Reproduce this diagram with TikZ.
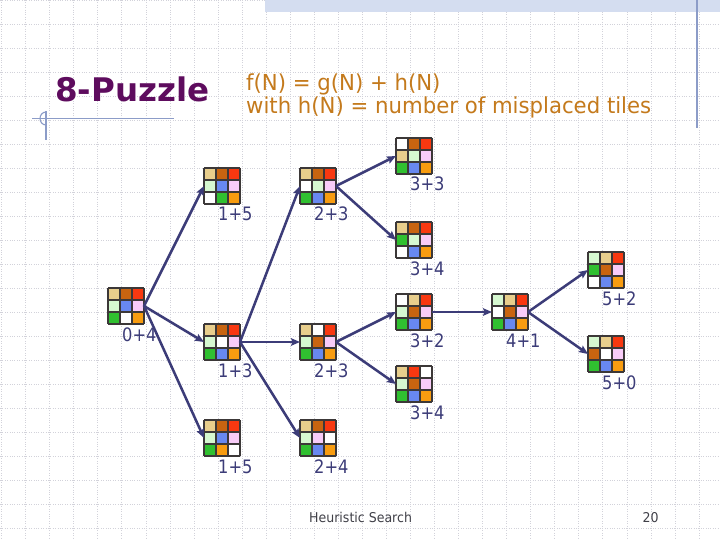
\documentclass[tikz,border=0pt]{standalone}
\usepackage{fontspec}
\setmainfont{DejaVu Sans}
\newfontfamily\lblfont[FakeStretch=0.88]{DejaVu Sans}
\newfontfamily\subfont[FakeStretch=0.965]{DejaVu Sans}
\newfontfamily\footfont[FakeStretch=0.93]{DejaVu Sans}
\usetikzlibrary{arrows.meta}
\definecolor{pzT}{HTML}{E8CE8C}
\definecolor{pzB}{HTML}{C86410}
\definecolor{pzR}{HTML}{F83810}
\definecolor{pzL}{HTML}{D6F8D0}
\definecolor{pzU}{HTML}{6888F0}
\definecolor{pzP}{HTML}{F8CCF8}
\definecolor{pzG}{HTML}{30C030}
\definecolor{pzO}{HTML}{F89C10}
\definecolor{pzW}{HTML}{FFFFFF}
\definecolor{navy}{HTML}{3C3C78}
\definecolor{titlepurple}{HTML}{5E0C5E}
\definecolor{subbrown}{HTML}{C47A1C}
\definecolor{deco}{HTML}{8C9CC8}
\definecolor{band}{HTML}{D4DDF0}
\definecolor{bggray}{HTML}{D2D2DA}
\definecolor{cellline}{HTML}{3C3838}
\definecolor{foot}{HTML}{404048}
\newcommand\puzgrid[4]{%
  \foreach \c [count=\i from 0] in {#4} {%
    \pgfmathtruncatemacro\cc{mod(\i,3)}%
    \pgfmathtruncatemacro\rr{div(\i,3)}%
    \fill[pz\c] ({#2+12*\cc},{#3+12*\rr}) rectangle ++(12,12);
  }
  \foreach \k in {0,12,24,36} {%
    \draw[cellstyle] ({#2+\k},#3) -- ++(0,36);
    \draw[cellstyle] (#2,{#3+\k}) -- ++(36,0);
  }
  \node[pzbox] (#1) at ({#2+18},{#3+18}) {};
}
\newcommand\pzlabel[4]{\node[lbl] (#1) at ({#2+14},{#3+53}) {#4};}
\begin{document}
\begin{tikzpicture}[x=1pt,y=-1pt,
  bggrid/.style={bggray, line width=0.6pt, dash pattern=on 1pt off 1.4pt},
  cellstyle/.style={cellline, line width=1.1pt},
  pzbox/.style={draw=none, minimum size=36pt, inner sep=0pt, outer sep=0pt},
  lbl/.style={navy, anchor=base west, inner sep=0pt, font=\lblfont\fontsize{18.5}{20}\selectfont},
  arr/.style={navy, line width=2.5pt, -{Stealth[length=9pt,width=7.5pt,inset=1.5pt]}},
  decoline/.style={deco, line width=1.1pt}
]
\useasboundingbox (0,0) rectangle (720,540);
\fill[white] (0,0) rectangle (720,540);
% background grid
\foreach \i in {0,...,29} \draw[bggrid] ({1.5+24.05*\i},0) -- ({1.5+24.05*\i},540);
\foreach \j in {0,...,22} \draw[bggrid] (0,{24.03*\j}) -- (720,{24.03*\j});
% header decoration
\fill[band] (265,0) rectangle (720,12.5);
\draw[decoline] (697,0) -- (697,128);
\draw[decoline] (32,118.5) -- (174,118.5);
\draw[decoline] (46,111) -- (46,140);
\draw[decoline] (46,112) arc[start angle=90, end angle=270, x radius=6, y radius=-6.5];
% title
\node[anchor=base west, inner sep=0pt, titlepurple, font=\bfseries\fontsize{32.5}{36}\selectfont] (title) at (55,101.5) {8-Puzzle};
\node[anchor=base west, inner sep=0pt, subbrown, font=\subfont\fontsize{22}{24}\selectfont] (sub1) at (246,90.7) {f(N) = g(N) + h(N)};
\node[anchor=base west, inner sep=0pt, subbrown, font=\subfont\fontsize{22}{24}\selectfont] (sub2) at (246,113.3) {with h(N) = number of misplaced tiles};
% puzzles
\puzgrid{root}{108}{288}{T,B,R,L,U,P,G,W,O}
\puzgrid{a15}{204}{168}{T,B,R,L,U,P,W,G,O}
\puzgrid{a13}{204}{324}{T,B,R,L,W,P,G,U,O}
\puzgrid{a15b}{204}{420}{T,B,R,L,U,P,G,O,W}
\puzgrid{b23}{300}{168}{T,B,R,W,L,P,G,U,O}
\puzgrid{b23m}{300}{324}{T,W,R,L,B,P,G,U,O}
\puzgrid{b24}{300}{420}{T,B,R,L,P,W,G,U,O}
\puzgrid{c33}{396}{138}{W,B,R,T,L,P,G,U,O}
\puzgrid{c34}{396}{222}{T,B,R,G,L,P,W,U,O}
\puzgrid{c32}{396}{294}{W,T,R,L,B,P,G,U,O}
\puzgrid{c34b}{396}{366}{T,R,W,L,B,P,G,U,O}
\puzgrid{d41}{492}{294}{L,T,R,W,B,P,G,U,O}
\puzgrid{e52}{588}{252}{L,T,R,G,B,P,W,U,O}
\puzgrid{e50}{588}{336}{L,T,R,B,W,P,G,U,O}
% labels
\pzlabel{lroot}{108}{288}{0+4}
\pzlabel{la15}{204}{168}{1+5}
\pzlabel{la13}{204}{324}{1+3}
\pzlabel{la15b}{204}{420}{1+5}
\pzlabel{lb23}{300}{168}{2+3}
\pzlabel{lb23m}{300}{324}{2+3}
\pzlabel{lb24}{300}{420}{2+4}
\pzlabel{lc33}{396}{138}{3+3}
\pzlabel{lc34}{396}{222}{3+4}
\pzlabel{lc32}{396}{294}{3+2}
\pzlabel{lc34b}{396}{366}{3+4}
\pzlabel{ld41}{492}{294}{4+1}
\pzlabel{le52}{588}{252}{5+2}
\pzlabel{le50}{588}{336}{5+0}
% arrows
\draw[arr] (root.east) -- (a15.west);
\draw[arr] (root.east) -- (a13.west);
\draw[arr] (root.east) -- (a15b.west);
\draw[arr] (a13.east) -- (b23.west);
\draw[arr] (a13.east) -- (b23m.west);
\draw[arr] (a13.east) -- (b24.west);
\draw[arr] (b23.east) -- (c33.west);
\draw[arr] (b23.east) -- (c34.west);
\draw[arr] (b23m.east) -- (c32.west);
\draw[arr] (b23m.east) -- (c34b.west);
\draw[arr] (c32.east) -- (d41.west);
\draw[arr] (d41.east) -- (e52.west);
\draw[arr] (d41.east) -- (e50.west);
% footer
\node[anchor=base west, inner sep=0pt, foot, font=\footfont\fontsize{13.5}{15}\selectfont] (footer) at (309,522) {Heuristic Search};
\node[anchor=base west, inner sep=0pt, foot, font=\footfont\fontsize{13.5}{15}\selectfont] (pnum) at (642.5,522) {20};
\end{tikzpicture}
\end{document}
